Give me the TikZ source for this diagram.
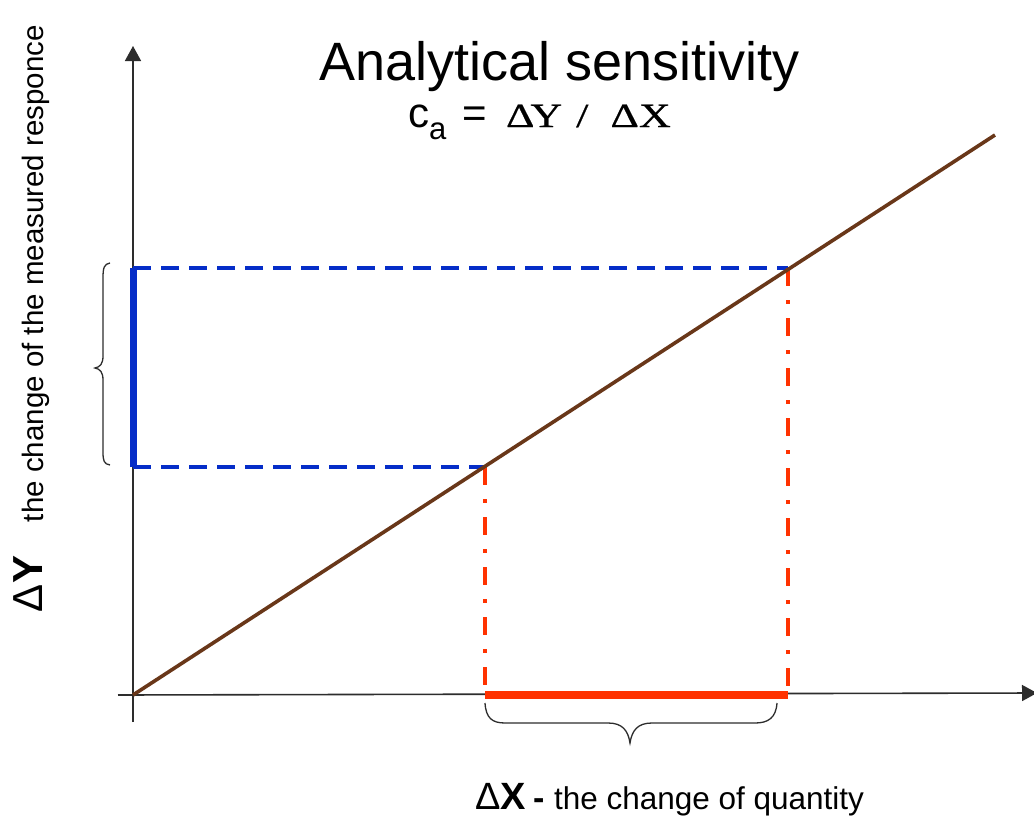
\documentclass[tikz,border=0pt]{standalone}
\usepackage{fontspec}
\setmainfont{Liberation Sans}
\newfontfamily\greekfont[FakeStretch=1.3,FakeBold=0.5]{Liberation Serif}
\usetikzlibrary{arrows.meta}
\definecolor{axisgray}{RGB}{45,45,45}
\definecolor{bblue}{RGB}{5,45,200}
\definecolor{rred}{RGB}{255,50,0}
\definecolor{bbrown}{RGB}{105,55,25}
\tikzset{
  axisline/.style={draw=axisgray, line width=1.6pt, -{Triangle[length=15pt,width=16pt]}},
  bluedash/.style={draw=bblue, line width=3.5pt, dash pattern=on 18pt off 10pt},
  bluebar/.style={draw=bblue, line width=7pt},
  reddashdot/.style={draw=rred, line width=4pt, dash pattern=on 18pt off 14pt on 4pt off 14pt},
  redbar/.style={draw=rred, line width=8pt},
  curve/.style={draw=bbrown, line width=3.6pt},
  bracestyle/.style={draw=axisgray, line width=1.3pt},
  lbl/.style={inner sep=0pt, outer sep=0pt}
}
\begin{document}
\begin{tikzpicture}[x=1pt,y=-1pt]
\useasboundingbox[fill=white] (0,0) rectangle (1034,819);
% coordinates
\coordinate (O) at (133,695);
\coordinate (Ybot) at (133,722);
\coordinate (Ytop) at (133,46);
\coordinate (Xleft) at (118,695);
\coordinate (Xright) at (1037,693);
\coordinate (P1) at (485,467);
\coordinate (P2) at (788,268);
\coordinate (Y1) at (133,467);
\coordinate (Y2) at (133,268);
\coordinate (X1) at (485,695);
\coordinate (X2) at (788,695);
\coordinate (Lend) at (995,135);
% axes
\draw[axisline] (Ybot) -- (Ytop);
\draw[axisline] (Xleft) -- (Xright);
% blue
\draw[bluedash] (Y2) -- (P2);
\draw[bluedash] (Y1) -- (P1);
\draw[bluebar] (Y1) -- (Y2);
% red
\draw[reddashdot] (P1) -- (X1);
\draw[reddashdot] (P2) -- (X2);
\draw[redbar] (X1) -- (X2);
% brown line
\draw[curve] (O) -- (Lend);
% braces
\draw[bracestyle] (110,263) .. controls (104,264) and (103,268) .. (103,278) -- (103,356)
  .. controls (103,364) and (100,367) .. (95,368)
  .. controls (100,369) and (103,372) .. (103,380) -- (103,452)
  .. controls (103,461) and (104,464) .. (110,465);
\draw[bracestyle] (485,703) .. controls (486,718) and (492,723) .. (505,723) -- (608,723)
  .. controls (622,723) and (628,730) .. (630,743)
  .. controls (632,730) and (638,723) .. (652,723) -- (755,723)
  .. controls (768,723) and (776,718) .. (777,703);
% texts
\node[lbl, anchor=base west] (title) at (319,80) {\fontsize{54}{60}\selectfont Analytical sensitivity};
\node[lbl, anchor=base west] (formula) at (408,127) {\fontsize{42}{44}\selectfont c\raisebox{-12pt}{\fontsize{31}{32}\selectfont a}\hspace{16pt}=};
\node[lbl, anchor=base west] (ratio) at (506,127) {\greekfont\fontsize{34}{38}\selectfont ΔΥ\hspace{14pt}/\hspace{22pt}ΔΧ};
\node[lbl, anchor=base west, rotate=90] (dY) at (42,612) {\fontsize{42}{44}\selectfont Δ\textbf{Y}};
\node[lbl, anchor=base west, rotate=90] (ylab) at (43,522) {\fontsize{29.5}{32}\selectfont the change of the measured responce};
\node[lbl, anchor=base west] (dX) at (475,809) {\fontsize{38}{42}\selectfont Δ\textbf{X}};
\node[lbl, anchor=base west] (dash) at (533,809) {\fontsize{34}{40}\selectfont\bfseries -};
\node[lbl, anchor=base west] (xlab) at (554,809) {\fontsize{31.5}{36}\selectfont the change of quantity};
\end{tikzpicture}
\end{document}
